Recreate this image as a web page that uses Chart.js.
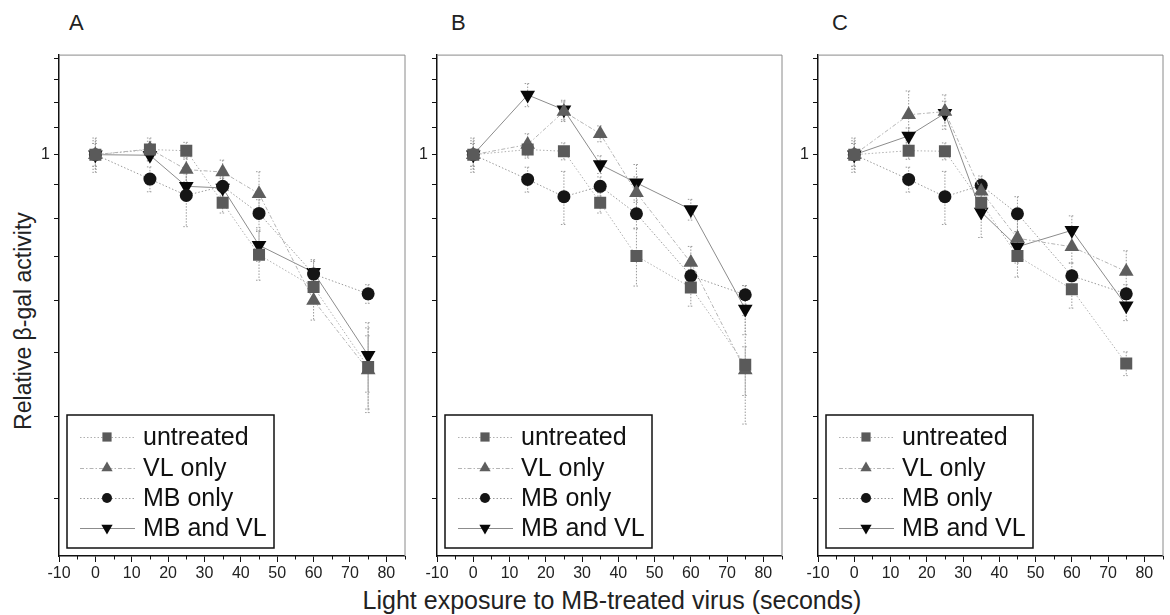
<!DOCTYPE html>
<html>
<head>
<meta charset="utf-8">
<script src="https://cdn.jsdelivr.net/npm/chart.js@4.4.1/dist/chart.umd.min.js"></script>
<style>
  html, body { margin: 0; padding: 0; background: #fff; overflow: hidden; }
  body { width: 1170px; height: 615px; position: relative; font-family: "Liberation Sans", Arial, sans-serif; color: #222; }
  canvas { position: absolute; top: 41px; }
  .letter { position: absolute; top: 10px; font-size: 22px; }
  #ytitle { position: absolute; left: 23px; top: 321px; font-size: 23px; white-space: nowrap;
            transform: translate(-50%, -50%) rotate(-90deg); }
  #xtitle { position: absolute; left: 612px; top: 600px; font-size: 25px; white-space: nowrap;
            transform: translate(-50%, -50%); }
</style>
</head>
<body>
<div class="letter" style="left:69px">A</div>
<div class="letter" style="left:451px">B</div>
<div class="letter" style="left:832px">C</div>
<div id="ytitle">Relative &beta;-gal activity</div>
<div id="xtitle">Light exposure to MB-treated virus (seconds)</div>
<canvas id="panelA" width="383" height="549" style="left:30px"></canvas>
<canvas id="panelB" width="382" height="549" style="left:408px"></canvas>
<canvas id="panelC" width="382" height="549" style="left:789px"></canvas>
<script>
// time points (seconds) and series names
const timePoints = [0, 15, 25, 35, 45, 60, 75];
const seriesLabels = ['untreated', 'VL only', 'MB only', 'MB and VL'];

// axis ticks
const xTickValues = [-10, 0, 10, 20, 30, 40, 50, 60, 70, 80];
const xMinorTicks = [-5, 5, 15, 25, 35, 45, 55, 65, 75, 85];
const yTickValues = [0.3, 0.4, 0.5, 0.6, 0.7, 0.8, 0.9, 1, 1.1, 1.2, 1.3, 1.4];
const yLabelledTicks = [1];

// Panel A
const untreatedA = [1.00, 1.018, 1.014, 0.845, 0.704, 0.629, 0.475];
const vlOnlyA    = [1.00, 1.020, 0.949, 0.941, 0.872, 0.600, 0.470];
const mbOnlyA    = [1.00, 0.918, 0.867, 0.895, 0.814, 0.658, 0.614];
const mbVlA      = [1.00, 0.998, 0.895, 0.890, 0.728, 0.662, 0.495];
const errUntreatedA = [0.05, 0.03, 0.03, 0.03, 0.06, 0.03, 0.07];
const errVlOnlyA    = [0.04, 0.04, 0.04, 0.04, 0.07, 0.04, 0.06];
const errMbOnlyA    = [0.06, 0.04, 0.09, 0.03, 0.04, 0.03, 0.02];
const errMbVlA      = [0.04, 0.02, 0.04, 0.03, 0.04, 0.03, 0.06];

// Panel B
const untreatedB = [1.00, 1.018, 1.012, 0.845, 0.701, 0.628, 0.479];
const vlOnlyB    = [1.00, 1.036, 1.163, 1.076, 0.875, 0.685, 0.470];
const mbOnlyB    = [1.00, 0.917, 0.863, 0.895, 0.813, 0.654, 0.612];
const mbVlB      = [1.00, 1.233, 1.170, 0.966, 0.906, 0.825, 0.582];
const errUntreatedB = [0.05, 0.03, 0.03, 0.03, 0.07, 0.04, 0.09];
const errVlOnlyB    = [0.04, 0.04, 0.04, 0.03, 0.05, 0.04, 0.04];
const errMbOnlyB    = [0.06, 0.04, 0.08, 0.03, 0.04, 0.03, 0.02];
const errMbVlB      = [0.04, 0.05, 0.04, 0.03, 0.06, 0.03, 0.05];

// Panel C
const untreatedC = [1.00, 1.014, 1.012, 0.845, 0.701, 0.624, 0.481];
const vlOnlyC    = [1.00, 1.150, 1.163, 0.880, 0.746, 0.724, 0.664];
const mbOnlyC    = [1.00, 0.917, 0.863, 0.898, 0.813, 0.654, 0.614];
const mbVlC      = [1.00, 1.068, 1.156, 0.818, 0.724, 0.767, 0.589];
const errUntreatedC = [0.05, 0.03, 0.03, 0.03, 0.05, 0.04, 0.02];
const errVlOnlyC    = [0.04, 0.10, 0.07, 0.04, 0.05, 0.04, 0.05];
const errMbOnlyC    = [0.06, 0.04, 0.08, 0.03, 0.05, 0.03, 0.02];
const errMbVlC      = [0.04, 0.03, 0.05, 0.07, 0.04, 0.04, 0.03];

Chart.defaults.font.family = '"Liberation Sans", Arial, sans-serif';
Chart.defaults.color = '#222';

// look of each series: marker, fill, line
const seriesStyles = [
    { pointStyle: 'rect', radius: 8.5, rotation: 0, fill: '#5a5a5a', line: '#b0b0b0', dash: [1.5, 2] },
    { pointStyle: 'triangle', radius: 8.5, rotation: 0, fill: '#5e5e5e', line: '#b4b4b4', dash: [4, 2, 1.5, 2] },
    { pointStyle: 'circle', radius: 6.5, rotation: 0, fill: '#151515', line: '#9a9a9a', dash: [1.5, 2] },
    { pointStyle: 'triangle', radius: 8.5, rotation: 180, fill: '#080808', line: '#8c8c8c', dash: [] }
];

const drawMarker = (ctx, st, x, y, r) => {
    ctx.save();
    ctx.fillStyle = st.fill;
    ctx.beginPath();
    if (st.pointStyle === 'rect') {
        const s = r * Math.SQRT1_2;
        ctx.rect(x - s, y - s, 2 * s, 2 * s);
    } else if (st.pointStyle === 'circle') {
        ctx.arc(x, y, r, 0, Math.PI * 2);
    } else {
        const d = st.rotation ? -1 : 1;
        ctx.moveTo(x, y - d * r);
        ctx.lineTo(x + r * 0.866, y + d * r * 0.5);
        ctx.lineTo(x - r * 0.866, y + d * r * 0.5);
        ctx.closePath();
    }
    ctx.fill();
    ctx.restore();
};

// error bars, box frame and minor x ticks
const panelExtras = {
    id: 'panelExtras',
    beforeDatasetsDraw(chart) {
        const ctx = chart.ctx;
        const area = chart.chartArea;
        const xs = chart.scales.x, ys = chart.scales.y;
        ctx.save();
        ctx.strokeStyle = '#8a8a8a';
        ctx.lineWidth = 1;
        ctx.beginPath();
        ctx.moveTo(area.left, area.top + 0.5);
        ctx.lineTo(area.right + 0.5, area.top + 0.5);
        ctx.lineTo(area.right + 0.5, area.bottom);
        ctx.stroke();

        ctx.strokeStyle = '#111';
        ctx.beginPath();
        xMinorTicks.forEach(v => {
            const px = Math.round(xs.getPixelForValue(v)) + 0.5;
            ctx.moveTo(px, area.bottom);
            ctx.lineTo(px, area.bottom + 3.5);
        });
        ctx.stroke();

        ctx.strokeStyle = '#9a9a9a';
        ctx.setLineDash([1.5, 1.5]);
        chart.data.datasets.forEach((ds, di) => {
            const meta = chart.getDatasetMeta(di);
            meta.data.forEach((pt, i) => {
                const v = ds.data[i].y, e = ds.errors[i];
                const top = ys.getPixelForValue(v + e);
                const bot = ys.getPixelForValue(v - e);
                ctx.beginPath();
                ctx.moveTo(pt.x, top);
                ctx.lineTo(pt.x, bot);
                ctx.moveTo(pt.x - 3, top);
                ctx.lineTo(pt.x + 3, top);
                ctx.moveTo(pt.x - 3, bot);
                ctx.lineTo(pt.x + 3, bot);
                ctx.stroke();
            });
        });
        ctx.restore();
    },
    afterDraw(chart) {
        // legend box in the lower left corner
        const ctx = chart.ctx;
        const area = chart.chartArea;
        const bx = area.left + 8, by = area.bottom - 141;
        const rows = [22, 53, 83, 113];
        ctx.save();
        ctx.fillStyle = '#fff';
        ctx.fillRect(bx, by, 207, 133);
        ctx.strokeStyle = '#111';
        ctx.lineWidth = 1.5;
        ctx.strokeRect(bx, by, 207, 133);
        ctx.font = '25px "Liberation Sans", Arial, sans-serif';
        ctx.textBaseline = 'middle';
        chart.data.datasets.forEach((ds, i) => {
            const st = seriesStyles[i];
            const ry = by + rows[i];
            ctx.strokeStyle = st.line;
            ctx.lineWidth = 1;
            ctx.setLineDash(st.dash);
            ctx.beginPath();
            ctx.moveTo(bx + 13, ry + 0.5);
            ctx.lineTo(bx + 68, ry + 0.5);
            ctx.stroke();
            ctx.setLineDash([]);
            drawMarker(ctx, st, bx + 40, ry, st.pointStyle === 'circle' ? 5 : 6.5);
            ctx.fillStyle = '#111';
            ctx.fillText(ds.label, bx + 76, ry + 1);
        });
        ctx.restore();
    }
};

const makePanel = (canvasId, values, errors) => {
    return new Chart(document.getElementById(canvasId).getContext('2d'), {
        type: 'line',
        data: {
            datasets: seriesLabels.map((label, i) => ({
                label: label,
                data: timePoints.map((t, j) => ({ x: t, y: values[i][j] })),
                errors: errors[i],
                borderColor: seriesStyles[i].line,
                borderWidth: 1,
                borderDash: seriesStyles[i].dash,
                pointStyle: seriesStyles[i].pointStyle,
                pointRadius: seriesStyles[i].radius,
                pointRotation: seriesStyles[i].rotation,
                pointBackgroundColor: seriesStyles[i].fill,
                pointBorderColor: seriesStyles[i].fill,
                pointBorderWidth: 0,
                tension: 0
            }))
        },
        options: {
            responsive: false,
            animation: false,
            devicePixelRatio: 1,
            layout: { padding: { top: 12, right: 2, left: 0, bottom: 0 } },
            plugins: { legend: { display: false }, tooltip: { enabled: false } },
            scales: {
                x: {
                    type: 'linear',
                    min: -10,
                    max: 85,
                    afterBuildTicks: (scale) => { scale.ticks = xTickValues.map(v => ({ value: v })); },
                    afterFit: (scale) => { scale.height = 34; },
                    ticks: { font: { size: 16 }, color: '#222', padding: 2, maxRotation: 0, autoSkip: false },
                    grid: { drawOnChartArea: false, tickLength: 6, tickColor: '#111', color: '#111' },
                    border: { color: '#111', width: 1.5 }
                },
                y: {
                    type: 'logarithmic',
                    min: 0.245,
                    max: 1.42,
                    afterBuildTicks: (scale) => { scale.ticks = yTickValues.map(v => ({ value: v })); },
                    afterFit: (scale) => { scale.width = 29; },
                    ticks: {
                        font: { size: 16 },
                        color: '#222',
                        padding: 4,
                        autoSkip: false,
                        callback: (v) => yLabelledTicks.includes(v) ? String(v) : ''
                    },
                    grid: { drawOnChartArea: false, tickLength: 5, tickColor: '#111', color: '#111' },
                    border: { color: '#111', width: 1.5 }
                }
            }
        },
        plugins: [panelExtras]
    });
};

makePanel('panelA',
    [untreatedA, vlOnlyA, mbOnlyA, mbVlA],
    [errUntreatedA, errVlOnlyA, errMbOnlyA, errMbVlA]);
makePanel('panelB',
    [untreatedB, vlOnlyB, mbOnlyB, mbVlB],
    [errUntreatedB, errVlOnlyB, errMbOnlyB, errMbVlB]);
makePanel('panelC',
    [untreatedC, vlOnlyC, mbOnlyC, mbVlC],
    [errUntreatedC, errVlOnlyC, errMbOnlyC, errMbVlC]);
</script>
</body>
</html>
